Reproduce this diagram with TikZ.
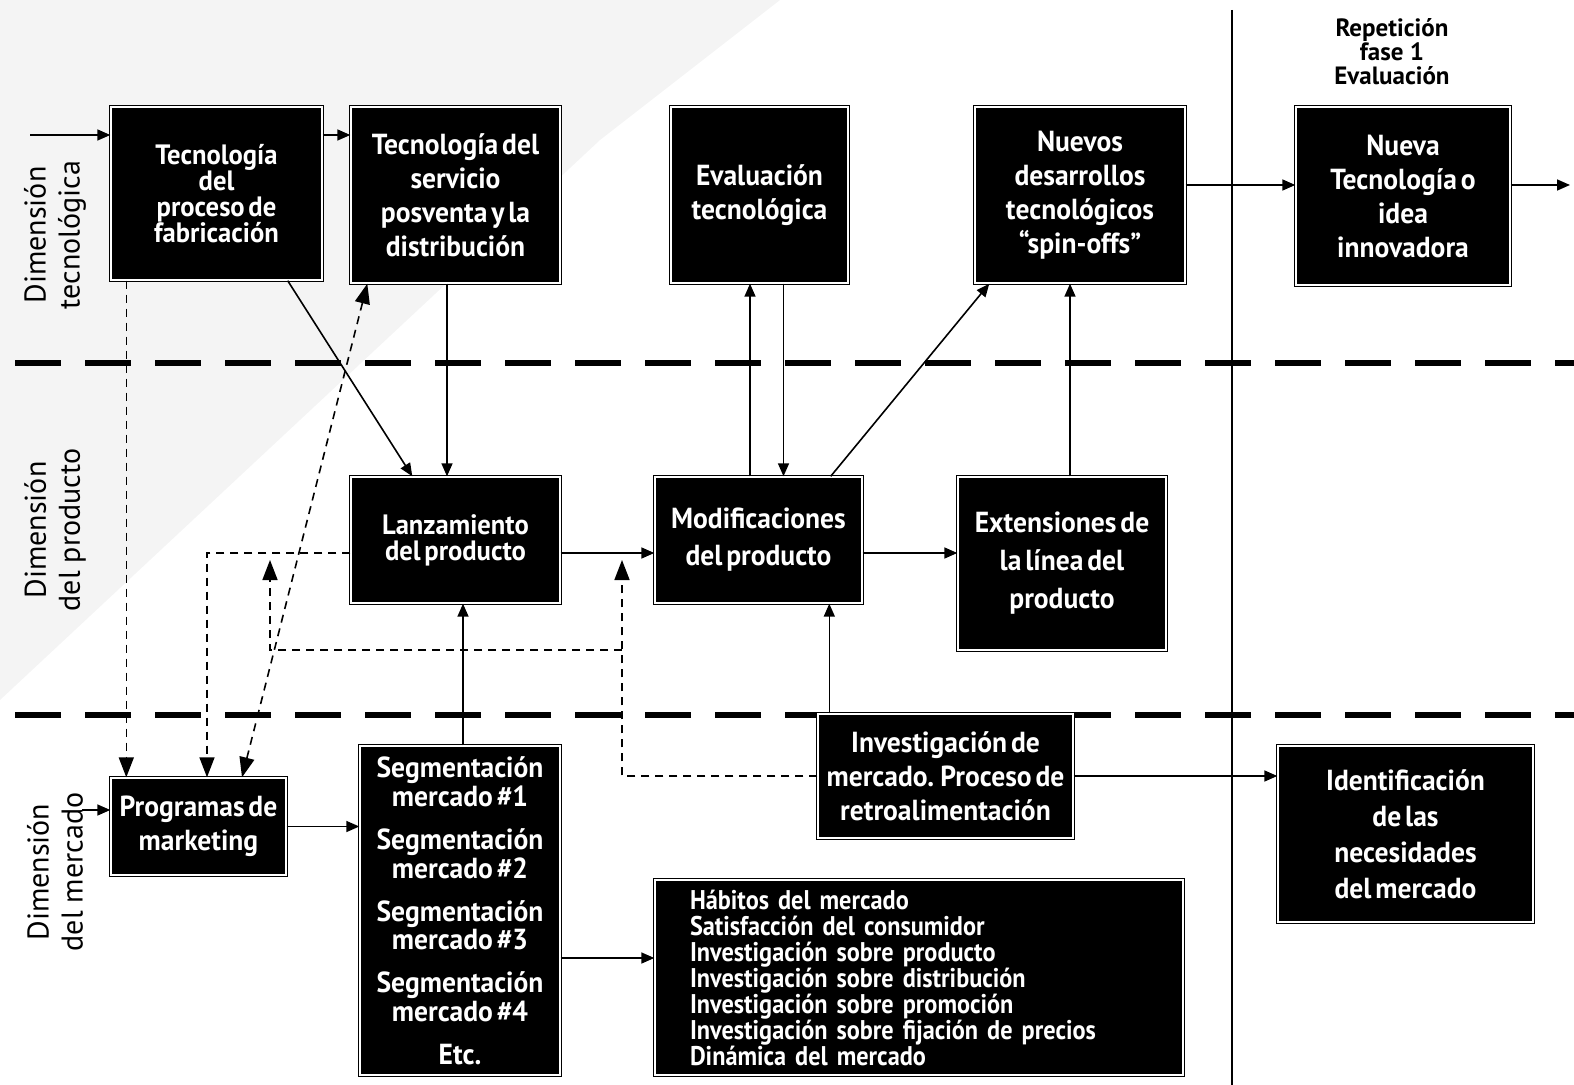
\documentclass[tikz,border=0pt]{standalone}
\usepackage{fontspec}
\setmainfont{PT Sans}
\newfontfamily\condfont[FakeStretch=0.95, WordSpace=0.55]{PT Sans}
\newfontfamily\listafont[FakeStretch=0.9, WordSpace=0.55]{PT Sans}
\usepackage{tikz}
\usetikzlibrary{arrows.meta,positioning,calc}

\begin{document}
\begin{tikzpicture}[x=0.5pt, y=-0.5pt,
  caja/.style={draw=black, line width=0.7pt, double=white, double distance=0.7pt, fill=black, text=white,
    font=\condfont\bfseries\fontsize{14.5}{17}\selectfont, align=center, inner sep=0pt},
  apretada/.style={font=\condfont\bfseries\fontsize{14}{13}\selectfont},
  dim/.style={rotate=90, align=center, font=\fontsize{15}{17}\selectfont},
  flecha/.style={line width=0.8pt, -{Triangle[length=6.5pt,width=5.5pt]}},
  punteada/.style={line width=0.8pt, dash pattern=on 4pt off 3pt, -{Triangle[length=10pt,width=7.5pt]}},
  separador/.style={line width=3pt, dash pattern=on 23pt off 12pt}]
\useasboundingbox (0,0) rectangle (1574,1085);
% scanned background
\fill[gray!9] (0,0) -- (780,0) -- (600,140) -- (0,700) -- cycle;
% dimension separators
\draw[separador] (15,363) -- (1574,363);
\draw[separador] (15,715) -- (1574,715);
\draw[line width=1pt] (1232,10) -- (1232,1085);
% dimension labels
\node[dim] (dtec) at (55,235) {Dimensión\\tecnológica};
\node[dim] (dprod) at (55,530) {Dimensión\\del producto};
\node[dim] (dmerc) at (55,872) {Dimensión\\del mercado};
\node[font=\bfseries\fontsize{12.5}{12}\selectfont, align=center] (fase) at (1392,52) {Repetición\\fase 1\\Evaluación};
% technology dimension
\node[caja, apretada, minimum width=105.5pt, minimum height=86.5pt] (tecfab) at (216.5,193.5) {Tecnología\\del\\proceso de\\fabricación};
\node[caja, minimum width=104.5pt, minimum height=88pt] (tecserv) at (455.5,195) {Tecnología del\\servicio\\posventa y la\\distribución};
\node[caja, minimum width=88.5pt, minimum height=88pt] (evaltec) at (759.5,195) {Evaluación\\tecnológica};
\node[caja, minimum width=105pt, minimum height=88pt] (nuevos) at (1080,195) {Nuevos\\desarrollos\\tecnológicos\\“spin-offs”};
\node[caja, minimum width=107pt, minimum height=89pt] (nueva) at (1403,196) {Nueva\\Tecnología o\\idea\\innovadora};
% product dimension
\node[caja, apretada, minimum width=104.5pt, minimum height=63pt] (lanz) at (455.5,540) {Lanzamiento\\del producto};
\node[caja, font=\condfont\bfseries\fontsize{14.5}{18.5}\selectfont, minimum width=103.5pt, minimum height=63pt] (modif) at (758.5,540) {Modificaciones\\del producto};
\node[caja, font=\condfont\bfseries\fontsize{14.5}{19}\selectfont, minimum width=104pt, minimum height=86.5pt] (ext) at (1062,563.5) {Extensiones de\\la línea del\\producto};
% market dimension
\node[caja, minimum width=87.5pt, minimum height=48.5pt] (prog) at (198.5,826.5) {Programas de\\marketing};
\node[caja, font=\condfont\bfseries\fontsize{14.5}{12.5}\selectfont, minimum width=100pt, minimum height=164.5pt] (segm) at (460,910.5)
  {Segmentación\\mercado \#1\\[9pt]Segmentación\\mercado \#2\\[9pt]Segmentación\\mercado \#3\\[9pt]Segmentación\\mercado \#4\\[9pt]Etc.};
\node[caja, minimum width=127.5pt, minimum height=62pt] (invest) at (945.5,776) {Investigación de\\mercado. Proceso de\\retroalimentación};
\node[caja, font=\listafont\bfseries\fontsize{13.5}{13}\selectfont, align=left, text width=229pt, minimum width=264pt, minimum height=97.5pt] (lista) at (919,977.5)
  {Hábitos del mercado\\Satisfacción del consumidor\\Investigación sobre producto\\Investigación sobre distribución\\Investigación sobre promoción\\Investigación sobre fijación de precios\\Dinámica del mercado};
\node[caja, font=\condfont\bfseries\fontsize{14.5}{18}\selectfont, minimum width=127.5pt, minimum height=88pt] (ident) at (1405.5,834) {Identificación\\de las\\necesidades\\del mercado};
% free ends
\coordinate (entrada) at (30,135);
\coordinate (entradam) at (82,810);
\coordinate (salida) at (1570,185);
\coordinate (retro) at (622,560);
\coordinate (retrob) at (270,560);
\coordinate (cruce) at (622,650);
% solid connectors
\draw[flecha] (entrada) -- (entrada -| tecfab.west);
\draw[flecha] ([yshift=29.25pt]tecfab.east) -- ([yshift=29.25pt]tecfab.east -| tecserv.west);
\draw[flecha] ([yshift=5pt]nuevos.east) -- ([yshift=5pt]nuevos.east -| nueva.west);
\draw[flecha] (nueva.east |- salida) -- (salida);
\draw[flecha] ([xshift=-17.5pt]tecfab.south east) -- ([xshift=31pt]lanz.north west);
\draw[flecha] ([xshift=-4.25pt]tecserv.south) -- ([xshift=-4.25pt]lanz.north);
\draw[flecha] ([yshift=-6.5pt]lanz.east) -- ([yshift=-6.5pt]modif.west);
\draw[flecha] ([yshift=-6.5pt]modif.east) -- ([yshift=-6.5pt]modif.east -| ext.west);
\draw[flecha] ([xshift=1.5pt]segm.north) -- ([xshift=1.5pt]segm.north |- lanz.south);
\draw[flecha] ([xshift=6pt]invest.north west) -- ([xshift=6pt]invest.north west |- modif.south);
\draw[flecha] ([xshift=-4.25pt]modif.north) -- ([xshift=-4.25pt]modif.north |- evaltec.south);
\draw[flecha] ([xshift=12pt]evaltec.south) -- ([xshift=12pt]evaltec.south |- modif.north);
\draw[flecha] ([xshift=-16pt]modif.north east) -- ([xshift=7.5pt]nuevos.south west);
\draw[flecha] ([xshift=4pt]ext.north) -- ([xshift=4pt]ext.north |- nuevos.south);
\draw[flecha] (entradam) -- (entradam -| prog.west);
\draw[flecha] (prog.east) -- (prog.east -| segm.west);
\draw[flecha] ([yshift=-23.75pt]segm.east) -- ([yshift=-23.75pt]segm.east -| lista.west);
\draw[flecha] (invest.east) -- (invest.east -| ident.west);
% dashed feedback
\draw[punteada] ([xshift=8pt]tecfab.south west) -- ([xshift=8pt]prog.north west);
\draw[punteada] ([yshift=-6.5pt]lanz.west) -| ([xshift=4.25pt]prog.north);
\draw[punteada, {Triangle[length=10pt,width=7.5pt]}-{Triangle[length=10pt,width=7.5pt]}] ([xshift=21.75pt]prog.north) -- ([xshift=8.5pt]tecserv.south west);
\draw[punteada] (invest.west) -| (retro);
\draw[punteada] (cruce) -| (retrob);
\end{tikzpicture}
\end{document}
